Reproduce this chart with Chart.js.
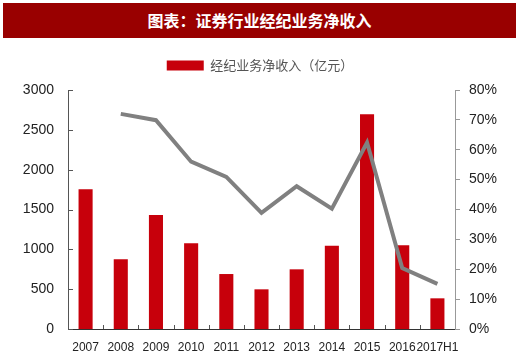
<!DOCTYPE html>
<html>
<head>
<meta charset="utf-8">
<script src="https://cdn.jsdelivr.net/npm/chart.js@4"></script>
<style>
    html, body { margin: 0; padding: 0; background: #fff; }
    body { width: 520px; height: 363px; position: relative; overflow: hidden; }
    .banner {
        position: absolute; left: 3px; top: 3px; width: 513px; height: 35px;
        background: #990000; color: #fff; text-align: center; line-height: 35px;
        font-family: "Noto Sans CJK SC", sans-serif; font-weight: bold; font-size: 16px;
    }
    .chart-wrap { position: absolute; left: 0; top: 40px; width: 520px; height: 323px; }
</style>
</head>
<body>
<div class="banner">图表：证券行业经纪业务净收入</div>
<div class="chart-wrap"><canvas id="chart" width="520" height="323"></canvas></div>
<script>
// Data
const years = ['2007', '2008', '2009', '2010', '2011', '2012', '2013', '2014', '2015', '2016', '2017H1'];
const brokerageIncome = [1753, 875, 1431, 1075, 690, 498, 749, 1046, 2695, 1050, 385];
const shareOfIncome = [null, 72.0, 69.9, 56.0, 50.9, 38.9, 47.8, 40.3, 62.4, 20.4, 15.1];
const leftTicks = [0, 500, 1000, 1500, 2000, 2500, 3000];
const rightTicks = [0, 10, 20, 30, 40, 50, 60, 70, 80];

const LATIN = '"Liberation Sans", Arial, sans-serif';
const CJK = '"Noto Sans CJK SC", sans-serif';

// Extra space under the legend, so the plot starts lower
const legendGap = {
    id: 'legendGap',
    afterInit(chart) {
        const legend = chart.legend;
        const fit = legend.fit;
        legend.fit = function () {
            fit.call(this);
            this.height += 8;
        };
    }
};

// Small tick marks drawn inward on the left axis and on category boundaries of the x axis
const innerTicks = {
    id: 'innerTicks',
    afterDatasetsDraw(chart) {
        const ctx = chart.ctx;
        const x = chart.scales.x;
        const y = chart.scales.y;
        ctx.save();
        ctx.strokeStyle = '#555';
        ctx.lineWidth = 1;
        ctx.beginPath();
        y.ticks.forEach((t, i) => {
            const py = Math.round(y.getPixelForTick(i)) + 0.5;
            ctx.moveTo(y.right, py);
            ctx.lineTo(y.right + 5, py);
        });
        for (let i = 1; i < years.length; i++) {
            const px = Math.round(x.getPixelForValue(i - 0.5)) + 0.5;
            ctx.moveTo(px, x.top);
            ctx.lineTo(px, x.top - 4);
        }
        ctx.stroke();
        ctx.restore();
    }
};

const ctx = document.getElementById('chart').getContext('2d');
new Chart(ctx, {
    data: {
        labels: years,
        datasets: [{
            type: 'bar',
            label: '经纪业务净收入（亿元）',
            data: brokerageIncome,
            backgroundColor: '#c7000b',
            categoryPercentage: 1,
            barPercentage: 0.4,
            yAxisID: 'y',
            order: 2
        }, {
            type: 'line',
            label: 'share',
            data: shareOfIncome,
            borderColor: '#808080',
            borderWidth: 4,
            pointRadius: 0,
            tension: 0,
            yAxisID: 'y1',
            order: 1
        }]
    },
    options: {
        responsive: false,
        animation: false,
        devicePixelRatio: 1,
        layout: { padding: { top: 9, left: 0, right: 0, bottom: 0 } },
        plugins: {
            legend: {
                display: true,
                position: 'top',
                labels: {
                    filter: item => item.datasetIndex === 0,
                    boxWidth: 37,
                    boxHeight: 10,
                    padding: 10,
                    color: '#555',
                    font: { family: CJK, size: 13 }
                }
            },
            tooltip: { enabled: false }
        },
        scales: {
            x: {
                grid: { display: false, drawTicks: false },
                border: { display: true, color: '#333', width: 1 },
                ticks: {
                    autoSkip: false,
                    maxRotation: 0,
                    padding: 11,
                    color: '#222',
                    font: { family: LATIN, size: 12 }
                },
                afterFit(scale) { scale.height = 34; }
            },
            y: {
                position: 'left',
                min: 0,
                max: 3000,
                afterBuildTicks(scale) { scale.ticks = leftTicks.map(v => ({ value: v })); },
                grid: { display: false, drawTicks: false },
                border: { display: true, color: '#555', width: 1 },
                ticks: {
                    padding: 14,
                    color: '#222',
                    font: { family: LATIN, size: 14 },
                    callback: v => String(v)
                },
                afterFit(scale) { scale.width = 68; }
            },
            y1: {
                position: 'right',
                min: 0,
                max: 80,
                afterBuildTicks(scale) { scale.ticks = rightTicks.map(v => ({ value: v })); },
                grid: { display: true, drawOnChartArea: false, tickLength: 5, color: '#999' },
                border: { display: true, color: '#999', width: 1 },
                ticks: {
                    padding: 9,
                    color: '#222',
                    font: { family: LATIN, size: 14 },
                    callback: v => v + '%'
                },
                afterFit(scale) { scale.width = 65; }
            }
        }
    },
    plugins: [legendGap, innerTicks]
});
</script>
</body>
</html>
